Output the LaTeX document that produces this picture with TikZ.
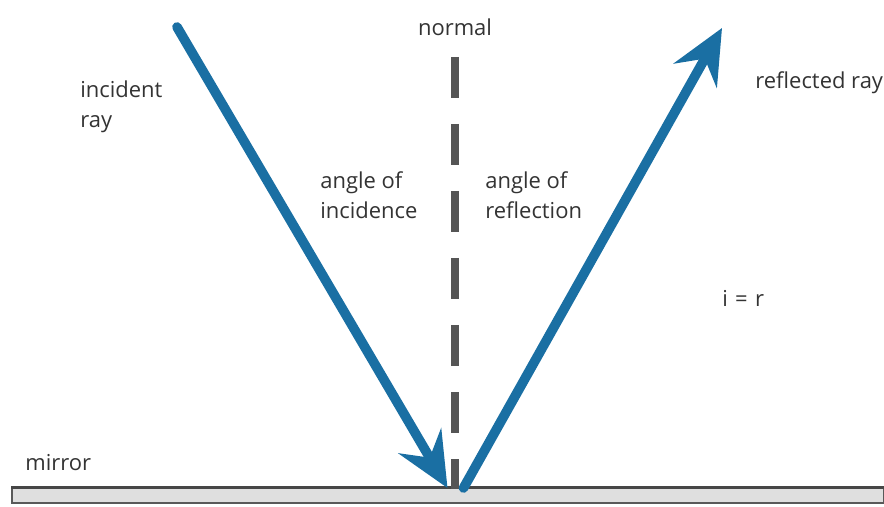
\documentclass[tikz,border=0pt]{standalone}
\usepackage{fontspec}
\setmainfont{Open Sans}
\usetikzlibrary{arrows.meta}

\definecolor{raycol}{HTML}{1A6FA3}
\definecolor{raydark}{HTML}{15507A}
\definecolor{textcol}{HTML}{333333}
\definecolor{normalcol}{HTML}{555555}

\begin{document}
\begin{tikzpicture}[
  txt/.style={font=\fontsize{12.5}{17}\selectfont, text=textcol, align=left, inner sep=0pt},
  ray/.style={line width=5.5pt, draw=raycol, line cap=round,
    -{Stealth[length=31pt, width=28pt, inset=11pt]}},
  normalline/.style={line width=4pt, draw=normalcol, dash pattern=on 0.82cm off 0.52cm}
]
\useasboundingbox (0,0) rectangle (17.68,10.14);

% Draw mirror
\node[draw=gray!70!black, fill=gray!25, line width=1.2pt, minimum width=17.44cm, minimum height=0.3cm, inner sep=0pt, anchor=south west] (mirror) at (0.22,0.05) {};
\draw[gray!55!black, line width=2pt] (mirror.north west) -- (mirror.north east);

% Draw rays
\coordinate (incstart) at (3.54, 9.6);
\coordinate (hitin) at (8.95, 0.38);
\coordinate (hitout) at (9.27, 0.38);
\coordinate (refend) at (14.44, 9.58);
\coordinate (normtop) at (9.1, 9.0);
\coordinate (normbot) at (9.1, 0.36);

\draw[normalline] (normtop) -- (normbot);
\draw[ray] (incstart) -- (hitin);
\draw[ray] (hitout) -- (refend);

% Labels
\node[txt, anchor=center] (normal) at (9.1, 9.6) {normal};
\node[txt, anchor=west] (incident) at (1.6, 8.0) {incident\\ray};
\node[txt, anchor=west] (angin) at (6.4, 6.24) {angle of\\incidence};
\node[txt, anchor=west] (angref) at (9.7, 6.24) {angle of\\reflection};
\node[txt, anchor=west] (reflected) at (15.1, 8.48) {reflected ray};
\node[txt, anchor=west] (equal) at (14.44, 4.18) {i\,\,=\,\,r};
\node[txt, anchor=west] (mirrortext) at (0.5, 0.88) {mirror};

\end{tikzpicture}
\end{document}
